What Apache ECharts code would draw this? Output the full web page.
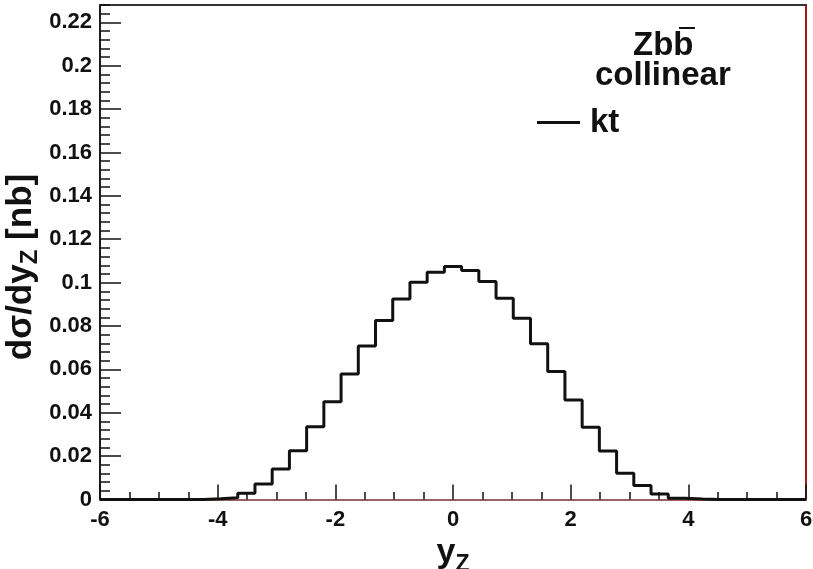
<!DOCTYPE html>
<html><head><meta charset="utf-8">
<script src="https://cdn.jsdelivr.net/npm/echarts@6/dist/echarts.min.js"></script>
<style>html,body{margin:0;padding:0;background:#fff}#c{width:813px;height:569px}</style>
</head><body><div id="c"></div>
<script>
// Histogram binning (41 equal bins between -6 and 6)
const binMin = -6, binMax = 6, nBins = 41;
// kt histogram contents, one value per bin
const ktValues = [
  0, 0, 0, 0, 0, 0,
  0.0003, 0.0008, 0.0029, 0.0072, 0.0141, 0.0225, 0.0335, 0.0451, 0.0579, 0.0708,
  0.0825, 0.0924, 0.1002, 0.1048, 0.1074, 0.1056, 0.1005, 0.0928, 0.0836, 0.0718,
  0.0590, 0.0459, 0.0333, 0.0224, 0.0121, 0.0064, 0.0025, 0.0006, 0.0002,
  0, 0, 0, 0, 0, 0
];
const xTickLabels = ['-6', '-4', '-2', '0', '2', '4', '6'];
const yTickLabels = ['0', '0.02', '0.04', '0.06', '0.08', '0.1', '0.12', '0.14', '0.16', '0.18', '0.2', '0.22'];
const legendTitle = 'Zbb';
const legendSub = 'collinear';
const seriesName = 'kt';

const binW = (binMax - binMin) / nBins;
const stepData = ktValues.map((v, k) => [binMin + k * binW, v]);
stepData.push([binMax, ktValues[ktValues.length - 1]]);

const FONT = '"Liberation Sans", Arial, Helvetica, sans-serif';
const labelStyle = { fontFamily: FONT, fontWeight: 'bold', fontSize: 22, color: '#111' };

const chart = echarts.init(document.getElementById('c'), null, { renderer: 'canvas' });
chart.setOption({
  backgroundColor: '#fff',
  animation: false,
  grid: { left: 100, right: 7, top: 5, bottom: 69.5, containLabel: false, outerBoundsMode: 'none' },
  legend: {
    data: [{ name: seriesName, icon: 'rect' }],
    left: 537, top: 106, padding: 0,
    itemWidth: 43, itemHeight: 3,
    itemStyle: { color: '#111' },
    textStyle: { fontFamily: FONT, fontWeight: 'bold', fontSize: 33, color: '#111', padding: [6, 0, 0, 5] }
  },
  xAxis: [{
    type: 'value', min: -6, max: 6, interval: 2, position: 'bottom',
    axisLine: { onZero: false, lineStyle: { color: '#7d2b2b', width: 1.5 } },
    axisTick: { inside: true, length: 15, lineStyle: { color: '#111', width: 1.5 } },
    minorTick: { show: true, splitNumber: 4, length: 7.5, lineStyle: { color: '#111', width: 1.5 } },
    splitLine: { show: false },
    axisLabel: Object.assign({ margin: 9, formatter: v => xTickLabels[Math.round((v + 6) / 2)] }, labelStyle),
    name: '{a|y}{s|Z}', nameLocation: 'middle', nameGap: 22,
    nameTextStyle: { rich: {
      a: { fontFamily: FONT, fontWeight: 'bold', fontSize: 34, color: '#111', verticalAlign: 'top' },
      s: { fontFamily: FONT, fontWeight: 'bold', fontSize: 23, color: '#111', padding: [18, 0, 0, 0], verticalAlign: 'top' }
    } }
  }, {
    type: 'value', min: -6, max: 6, position: 'top',
    axisLine: { onZero: false, lineStyle: { color: '#333', width: 2 } },
    axisTick: { show: false }, axisLabel: { show: false }, splitLine: { show: false }
  }],
  yAxis: [{
    type: 'value', min: 0, max: 0.228, interval: 0.02, position: 'left',
    axisLine: { show: true, onZero: false, lineStyle: { color: '#2a1a1a', width: 2 } },
    axisTick: { show: true, inside: true, length: 21, lineStyle: { color: '#111', width: 1.5 } },
    splitLine: { show: false },
    axisLabel: Object.assign({ margin: 8, showMaxLabel: false,
      formatter: v => { const i = Math.round(v / 0.02); return (Math.abs(v - i * 0.02) < 1e-6 && i < yTickLabels.length) ? yTickLabels[i] : ''; } }, labelStyle)
  }, {
    type: 'value', min: 0, max: 0.228, interval: 0.004, position: 'left',
    axisLine: { show: false, onZero: false },
    axisTick: { show: true, inside: true, length: 10, lineStyle: { color: '#111', width: 1.5 } },
    axisLabel: { show: false }, splitLine: { show: false }
  }, {
    type: 'value', min: 0, max: 0.228, position: 'right',
    axisLine: { show: true, onZero: false, lineStyle: { color: '#a01c1c', width: 2 } },
    axisTick: { show: false }, axisLabel: { show: false }, splitLine: { show: false }
  }],
  graphic: [
    { type: 'text', x: 21, y: 267, rotation: Math.PI / 2,
      style: { text: '{a|dσ/dy}{s|Z}{a| [nb]}', align: 'center', verticalAlign: 'middle',
        rich: {
          a: { fontFamily: FONT, fontWeight: 'bold', fontSize: 35, fill: '#111' },
          s: { fontFamily: FONT, fontWeight: 'bold', fontSize: 24, fill: '#111', padding: [18, 0, 0, 0] }
        } } },
    { type: 'text', x: 633, y: 46,
      style: { text: legendTitle, fontFamily: FONT, fontWeight: 'bold', fontSize: 33, fill: '#111', verticalAlign: 'middle' } },
    { type: 'line', shape: { x1: 679, y1: 28, x2: 695, y2: 28 }, style: { stroke: '#111', lineWidth: 2 } },
    { type: 'text', x: 595, y: 76,
      style: { text: legendSub, fontFamily: FONT, fontWeight: 'bold', fontSize: 33, fill: '#111', verticalAlign: 'middle' } }
  ],
  series: [{
    name: seriesName, type: 'line', step: 'end', symbol: 'none',
    xAxisIndex: 0, yAxisIndex: 0,
    lineStyle: { color: '#111', width: 3 },
    itemStyle: { color: '#111' },
    data: stepData
  }]
});
</script>
</body></html>
